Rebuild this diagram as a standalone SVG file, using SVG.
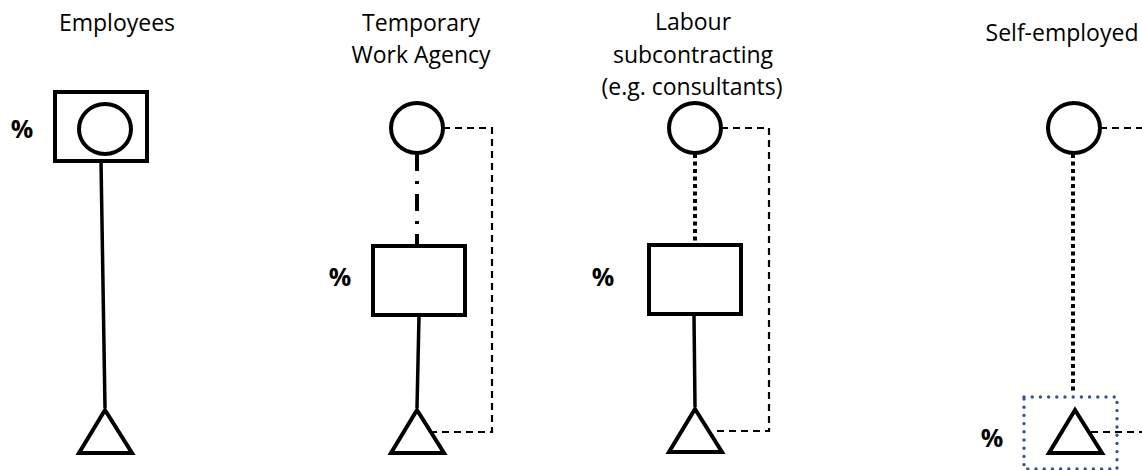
<svg xmlns="http://www.w3.org/2000/svg" width="1142" height="470" viewBox="0 0 1142 470">
<style>
.t{font-family:"Open Sans","Liberation Sans",sans-serif;font-size:23px;fill:#000;text-anchor:middle}
.p{font-family:"Open Sans","Liberation Sans",sans-serif;font-size:25px;font-weight:bold;fill:#000;text-anchor:middle}
.sh{fill:#fff;stroke:#000;stroke-width:4}
.tri{fill:#fff;stroke:#000;stroke-width:4;stroke-linejoin:miter}
.solid{stroke:#000;stroke-width:3.5;fill:none}
.dash{stroke:#000;stroke-width:2.2;fill:none;stroke-dasharray:7 5}
.dot{stroke:#000;stroke-width:4;fill:none;stroke-dasharray:4 3.5}
.dashdot{stroke:#000;stroke-width:4;fill:none;stroke-dasharray:17 10 3 10}
.bluebox{fill:none;stroke:#2f5496;stroke-width:3.4;stroke-linecap:round;stroke-dasharray:0 8.2}
</style>
<rect width="1142" height="470" fill="#fff"/>
<g id="titles">
<text class="t" x="117" y="31">Employees</text>
<text class="t" x="421" y="31">Temporary</text>
<text class="t" x="421" y="63">Work Agency</text>
<text class="t" x="693" y="30">Labour</text>
<text class="t" x="693" y="63">subcontracting</text>
<text class="t" x="692" y="95">(e.g. consultants)</text>
<text class="t" x="1062" y="41">Self-employed</text>
</g>
<g id="connectors">
<line class="solid" x1="101" y1="161" x2="105" y2="408"/>
<line class="dashdot" x1="417" y1="154" x2="417" y2="244"/>
<line class="solid" x1="419" y1="316" x2="417" y2="408"/>
<polyline class="dash" points="443,128 492,128 492,432 433,432"/>
<line class="dot" x1="695" y1="154" x2="695" y2="243"/>
<line class="solid" x1="694" y1="316" x2="695" y2="407"/>
<polyline class="dash" points="721,128 769,128 769,431 712,431"/>
<line class="dot" x1="1073" y1="154" x2="1073" y2="393"/>
<line class="dash" x1="1100" y1="128" x2="1142" y2="128"/>
<line class="dash" x1="1091" y1="432" x2="1142" y2="432"/>
</g>
<g id="employees">
<rect class="sh" x="55" y="92" width="92" height="69"/>
<ellipse class="sh" cx="105" cy="129" rx="26" ry="25"/>
<text class="p" x="22" y="138">%</text>
<polygon class="tri" points="105,410 79,453 132,453"/>
</g>
<g id="twa">
<ellipse class="sh" cx="417" cy="128" rx="26" ry="25"/>
<rect class="sh" x="373" y="246" width="92" height="69"/>
<text class="p" x="340" y="286">%</text>
<polygon class="tri" points="417,410 391,453 444,453"/>
</g>
<g id="labour">
<ellipse class="sh" cx="695" cy="128" rx="26" ry="25"/>
<rect class="sh" x="649" y="245" width="92" height="69"/>
<text class="p" x="603" y="286">%</text>
<polygon class="tri" points="695,409 669,452 722,452"/>
</g>
<g id="self-employed">
<ellipse class="sh" cx="1074" cy="128" rx="26" ry="25"/>
<rect class="bluebox" x="1024" y="397" width="93" height="72"/>
<text class="p" x="992" y="447">%</text>
<polygon class="tri" points="1075,410 1049,453 1102,453"/>
</g>
</svg>
